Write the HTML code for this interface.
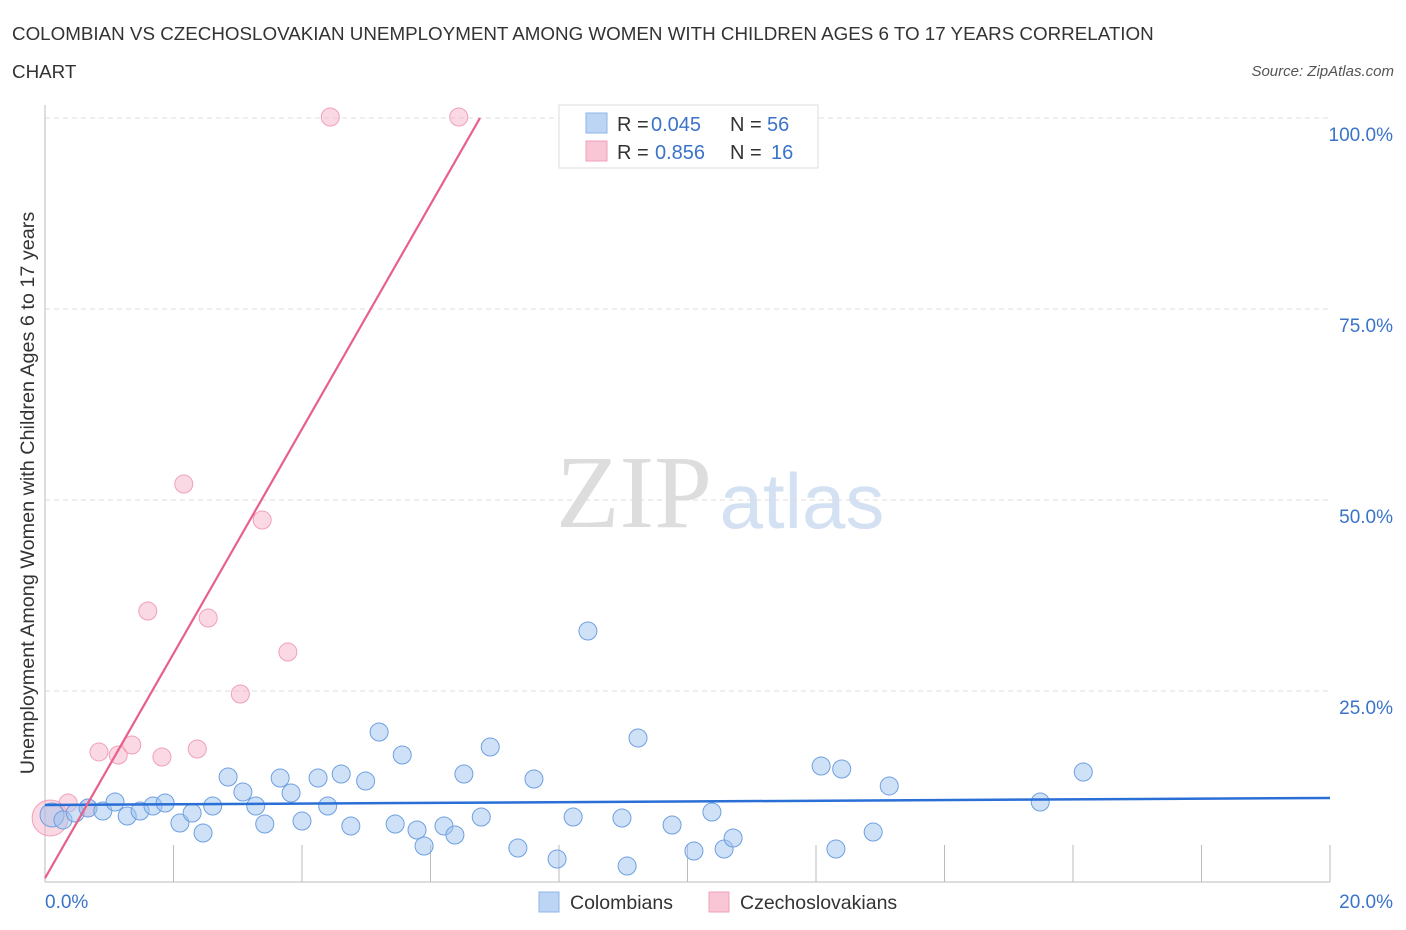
<!DOCTYPE html>
<html><head><meta charset="utf-8"><style>
body{margin:0;background:#fff;font-family:"Liberation Sans",sans-serif}
svg{display:block}
</style></head><body>
<svg id="c" width="1406" height="930">
<text x="12" y="40" font-size="18.8" fill="#333">COLOMBIAN VS CZECHOSLOVAKIAN UNEMPLOYMENT AMONG WOMEN WITH CHILDREN AGES 6 TO 17 YEARS CORRELATION</text>
<text x="12" y="78" font-size="18.8" fill="#333">CHART</text>
<text x="1394" y="76" font-size="15" fill="#555" font-style="italic" text-anchor="end">Source: ZipAtlas.com</text>
<text x="634" y="527" font-size="104" fill="#ddd" font-family="Liberation Serif" text-anchor="middle">ZIP</text>
<text x="802" y="528" font-size="78" fill="#d3e1f3" text-anchor="middle">atlas</text>
<text transform="translate(34,493) rotate(-90)" font-size="19.8" fill="#333" text-anchor="middle">Unemployment Among Women with Children Ages 6 to 17 years</text>
<g id="grid"></g><g id="pts"></g><g id="lines"></g>
<g>
<rect x="559" y="105" width="259" height="63" fill="#fff" stroke="#ddd"/>
<rect x="586" y="113" width="21" height="20" fill="#bcd5f5" stroke="#8fb5e8"/>
<rect x="586" y="141" width="21" height="20" fill="#f9c6d5" stroke="#f0a0b8"/>
<text x="617" y="131" font-size="20" fill="#333">R =</text>
<text x="651" y="131" font-size="20" fill="#3a73c8">0.045</text>
<text x="730" y="131" font-size="20" fill="#333">N =</text>
<text x="767" y="131" font-size="20" fill="#3a73c8">56</text>
<text x="617" y="159" font-size="20" fill="#333">R =</text>
<text x="655" y="159" font-size="20" fill="#3a73c8">0.856</text>
<text x="730" y="159" font-size="20" fill="#333">N =</text>
<text x="771" y="159" font-size="20" fill="#3a73c8">16</text>
</g>
<g>
<rect x="539" y="892" width="20" height="20" fill="#bcd5f5" stroke="#8fb5e8"/>
<text x="570" y="909" font-size="19.5" fill="#333">Colombians</text>
<rect x="709" y="892" width="20" height="20" fill="#f9c6d5" stroke="#f0a0b8"/>
<text x="740" y="909" font-size="19.5" fill="#333">Czechoslovakians</text>
</g>
</svg>
<script>
const blueX=[0.11,0.28,0.47,0.67,0.90,1.09,1.28,1.48,1.68,1.87,2.10,2.29,2.46,2.61,2.85,3.08,3.28,3.42,3.66,3.83,4.00,4.25,4.40,4.61,4.76,4.99,5.20,5.45,5.56,5.79,5.90,6.21,6.38,6.52,6.79,6.93,7.36,7.61,7.97,8.22,8.45,8.98,9.06,9.23,9.76,10.10,10.38,10.57,10.71,12.08,12.31,12.40,12.89,13.14,15.49,16.16];
const blueY=[8.77,8.12,9.03,9.69,9.29,10.47,8.64,9.29,9.95,10.34,7.72,9.03,6.41,9.95,13.74,11.78,9.95,7.59,13.61,11.65,7.98,13.61,9.95,14.14,7.33,13.22,19.63,7.59,16.62,6.81,4.71,7.33,6.15,14.14,8.51,17.67,4.45,13.48,3.01,8.51,32.85,8.38,2.09,18.85,7.46,4.06,9.16,4.32,5.76,15.18,4.32,14.79,6.54,12.57,10.47,14.40];
const pinkX=[0.08,0.36,0.67,0.84,1.14,1.35,1.60,1.82,2.16,2.37,2.54,3.04,3.38,3.78,4.44,6.44];
const pinkY=[8.38,10.34,9.69,17.02,16.62,17.93,35.47,16.36,52.09,17.41,34.55,24.61,47.38,30.10,100.13,100.13];
const blueLine=[0,10.08,20,11.0];
const pinkLine=[0,0.5,6.77,100];
const yTicks=[25,50,75,100];
const xTickVals=[0,2,4,6,8,10,12,14,16,18,20];
const NS="http://www.w3.org/2000/svg";
const sx=v=>45+v*64.25, sy=v=>882-v*7.64;
function mk(t,a,p){const e=document.createElementNS(NS,t);for(const k in a)e.setAttribute(k,a[k]);p.appendChild(e);return e;}
const g=document.getElementById('grid');
yTicks.forEach(v=>{
 const l=mk('line',{x1:45,x2:1330,y1:sy(v),y2:sy(v),stroke:'#ddd','stroke-dasharray':'5,4'},g);
 
 
 const t=mk('text',{x:1393,y:sy(v)+23,'font-size':19,fill:'#3a73c8','text-anchor':'end'},g);t.textContent=v.toFixed(1)+'%';
 
 
});
const ax=mk('line',{x1:45,x2:45,y1:105,y2:882,stroke:'#bbb'},g);


const bx=mk('line',{x1:45,x2:1330,y1:882,y2:882,stroke:'#bbb'},g);


xTickVals.forEach(v=>{if(v===0)return;const l=mk('line',{x1:sx(v),x2:sx(v),y1:845,y2:882,stroke:'#bbb'},g);
 
 });
[[0,45,'start'],[20,1393,'end']].forEach(([v,x,a])=>{const t=mk('text',{x:x,y:908,'font-size':19,fill:'#3a73c8','text-anchor':a},g);t.textContent=v.toFixed(1)+'%';
 
 });
const p=document.getElementById('pts');
pinkX.forEach((x,i)=>{const c=mk('circle',{cx:sx(x),cy:sy(pinkY[i]),r:i===0?18:9,fill:'rgba(246,170,195,0.45)',stroke:'#f0a0b8','stroke-width':1},p);
 
 });
blueX.forEach((x,i)=>{const c=mk('circle',{cx:sx(x),cy:sy(blueY[i]),r:i===0?12:9,fill:'rgba(160,195,240,0.5)',stroke:'#6fa0e0','stroke-width':1},p);
 
 });
const L=document.getElementById('lines');
const bl=mk('line',{x1:sx(blueLine[0]),y1:sy(blueLine[1]),x2:sx(blueLine[2]),y2:sy(blueLine[3]),stroke:'#2a6fd6','stroke-width':2.5},L);


const pl=mk('line',{x1:sx(pinkLine[0]),y1:sy(pinkLine[1]),x2:sx(pinkLine[2]),y2:sy(pinkLine[3]),stroke:'#e8608a','stroke-width':2.2},L);


</script>
</body></html>
